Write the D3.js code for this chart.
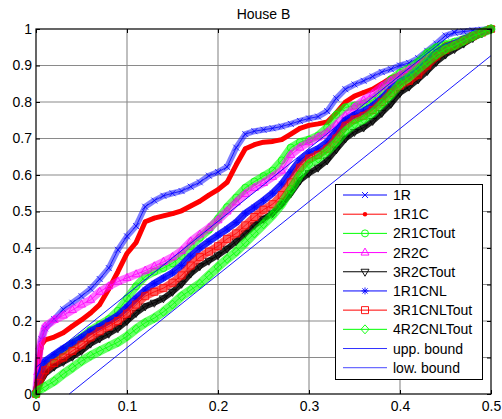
<!DOCTYPE html>
<html><head><meta charset="utf-8">
<script src="https://cdn.jsdelivr.net/npm/d3@7"></script>
<style>
html,body{margin:0;padding:0;background:#fff;}
svg{display:block;font-family:Arial,"Liberation Sans",sans-serif;}
</style></head><body>
<svg id="chart" width="502" height="419"></svg>
<script>
const chartTitle = "House B";
const xTickValues = [0, 0.1, 0.2, 0.3, 0.4, 0.5];
const xTickLabels = ["0", "0.1", "0.2", "0.3", "0.4", "0.5"];
const yTickValues = [0, 0.1, 0.2, 0.3, 0.4, 0.5, 0.6, 0.7, 0.8, 0.9, 1];
const yTickLabels = ["0", "0.1", "0.2", "0.3", "0.4", "0.5", "0.6", "0.7", "0.8", "0.9", "1"];
const seriesNames = ["1R", "1R1C", "2R1CTout", "2R2C", "3R2CTout", "1R1CNL", "3R1CNLTout", "4R2CNLTout", "upp. bound", "low. bound"];

const s1R = [[0,0],[0.003,0.10],[0.006,0.15],[0.01,0.18],[0.02,0.205],[0.03,0.232],[0.04,0.25],[0.05,0.268],[0.06,0.288],[0.07,0.315],[0.08,0.345],[0.09,0.395],[0.10,0.432],[0.11,0.46],[0.12,0.513],[0.13,0.53],[0.14,0.543],[0.15,0.55],[0.16,0.556],[0.17,0.568],[0.18,0.58],[0.19,0.598],[0.20,0.608],[0.21,0.622],[0.22,0.675],[0.23,0.712],[0.24,0.72],[0.25,0.724],[0.26,0.728],[0.27,0.733],[0.28,0.74],[0.29,0.748],[0.30,0.755],[0.31,0.76],[0.32,0.775],[0.33,0.81],[0.34,0.835],[0.35,0.848],[0.36,0.858],[0.37,0.87],[0.38,0.882],[0.39,0.89],[0.40,0.9],[0.41,0.907],[0.42,0.92],[0.43,0.94],[0.44,0.96],[0.45,0.982],[0.46,0.99],[0.47,0.993],[0.48,0.996],[0.49,0.998],[0.50,1.0]];

const s1R1C = [[0,0],[0.003,0.09],[0.006,0.135],[0.01,0.148],[0.02,0.156],[0.03,0.168],[0.04,0.186],[0.05,0.203],[0.06,0.222],[0.07,0.245],[0.08,0.288],[0.09,0.335],[0.10,0.385],[0.11,0.415],[0.12,0.472],[0.13,0.482],[0.14,0.488],[0.15,0.494],[0.16,0.502],[0.17,0.515],[0.18,0.528],[0.19,0.545],[0.20,0.56],[0.21,0.58],[0.22,0.628],[0.23,0.672],[0.24,0.683],[0.25,0.69],[0.26,0.692],[0.27,0.697],[0.28,0.712],[0.29,0.728],[0.30,0.736],[0.31,0.74],[0.32,0.745],[0.33,0.77],[0.34,0.8],[0.35,0.816],[0.36,0.826],[0.37,0.835],[0.38,0.85],[0.39,0.866],[0.40,0.875],[0.41,0.887],[0.42,0.905],[0.43,0.92],[0.44,0.938],[0.45,0.958],[0.46,0.963],[0.47,0.968],[0.48,0.983],[0.49,0.993],[0.50,1.0]];

const s2R1CTout = [[0,0],[0.005,0.05],[0.01,0.075],[0.02,0.1],[0.03,0.12],[0.04,0.138],[0.05,0.155],[0.06,0.175],[0.07,0.19],[0.08,0.205],[0.09,0.228],[0.10,0.262],[0.11,0.295],[0.12,0.322],[0.13,0.335],[0.14,0.345],[0.15,0.358],[0.16,0.378],[0.17,0.405],[0.18,0.428],[0.19,0.45],[0.20,0.48],[0.21,0.512],[0.22,0.538],[0.23,0.565],[0.24,0.582],[0.25,0.597],[0.26,0.612],[0.27,0.64],[0.28,0.675],[0.29,0.69],[0.30,0.697],[0.31,0.708],[0.32,0.73],[0.33,0.765],[0.34,0.785],[0.35,0.79],[0.36,0.795],[0.37,0.805],[0.38,0.83],[0.39,0.862],[0.40,0.88],[0.41,0.892],[0.42,0.91],[0.43,0.935],[0.44,0.95],[0.45,0.958],[0.46,0.965],[0.47,0.972],[0.48,0.982],[0.49,0.992],[0.50,1.0]];

const s2R2C = [[0,0],[0.002,0.06],[0.004,0.13],[0.01,0.185],[0.02,0.203],[0.03,0.215],[0.04,0.23],[0.05,0.245],[0.06,0.258],[0.07,0.28],[0.08,0.295],[0.09,0.308],[0.10,0.318],[0.11,0.328],[0.12,0.338],[0.13,0.35],[0.14,0.362],[0.15,0.375],[0.16,0.392],[0.17,0.418],[0.18,0.437],[0.19,0.455],[0.20,0.476],[0.21,0.5],[0.22,0.525],[0.23,0.548],[0.24,0.565],[0.25,0.578],[0.26,0.595],[0.27,0.612],[0.28,0.655],[0.29,0.675],[0.30,0.69],[0.31,0.703],[0.32,0.716],[0.33,0.738],[0.34,0.762],[0.35,0.785],[0.36,0.805],[0.37,0.822],[0.38,0.842],[0.39,0.858],[0.40,0.873],[0.41,0.888],[0.42,0.9],[0.43,0.914],[0.44,0.928],[0.45,0.943],[0.46,0.958],[0.47,0.97],[0.48,0.98],[0.49,0.99],[0.50,1.0]];

const s3R2CTout = [[0,0],[0.003,0.025],[0.01,0.055],[0.02,0.075],[0.03,0.088],[0.04,0.102],[0.05,0.118],[0.06,0.138],[0.07,0.152],[0.08,0.165],[0.09,0.18],[0.10,0.2],[0.11,0.222],[0.12,0.24],[0.13,0.25],[0.14,0.262],[0.15,0.28],[0.16,0.302],[0.17,0.33],[0.18,0.35],[0.19,0.365],[0.20,0.38],[0.21,0.398],[0.22,0.418],[0.23,0.44],[0.24,0.462],[0.25,0.48],[0.26,0.495],[0.27,0.52],[0.28,0.55],[0.29,0.585],[0.30,0.605],[0.31,0.62],[0.32,0.64],[0.33,0.67],[0.34,0.7],[0.35,0.718],[0.36,0.73],[0.37,0.748],[0.38,0.77],[0.39,0.795],[0.40,0.825],[0.41,0.842],[0.42,0.862],[0.43,0.885],[0.44,0.91],[0.45,0.93],[0.46,0.945],[0.47,0.96],[0.48,0.975],[0.49,0.988],[0.50,1.0]];

const s1R1CNL = [[0,0],[0.003,0.04],[0.01,0.09],[0.02,0.108],[0.03,0.125],[0.04,0.14],[0.05,0.155],[0.06,0.172],[0.07,0.185],[0.08,0.2],[0.09,0.215],[0.10,0.238],[0.11,0.262],[0.12,0.285],[0.13,0.303],[0.14,0.318],[0.15,0.332],[0.16,0.352],[0.17,0.378],[0.18,0.4],[0.19,0.418],[0.20,0.435],[0.21,0.452],[0.22,0.47],[0.23,0.495],[0.24,0.512],[0.25,0.53],[0.26,0.55],[0.27,0.575],[0.28,0.608],[0.29,0.64],[0.30,0.66],[0.31,0.672],[0.32,0.69],[0.33,0.72],[0.34,0.75],[0.35,0.765],[0.36,0.775],[0.37,0.79],[0.38,0.81],[0.39,0.835],[0.40,0.855],[0.41,0.868],[0.42,0.885],[0.43,0.91],[0.44,0.935],[0.45,0.95],[0.46,0.96],[0.47,0.972],[0.48,0.982],[0.49,0.992],[0.50,1.0]];

const s3R1CNLTout = [[0,0],[0.003,0.03],[0.01,0.065],[0.02,0.085],[0.03,0.1],[0.04,0.118],[0.05,0.135],[0.06,0.155],[0.07,0.172],[0.08,0.185],[0.09,0.2],[0.10,0.22],[0.11,0.245],[0.12,0.268],[0.13,0.28],[0.14,0.29],[0.15,0.305],[0.16,0.325],[0.17,0.352],[0.18,0.375],[0.19,0.39],[0.20,0.405],[0.21,0.425],[0.22,0.44],[0.23,0.462],[0.24,0.485],[0.25,0.505],[0.26,0.52],[0.27,0.545],[0.28,0.58],[0.29,0.62],[0.30,0.645],[0.31,0.655],[0.32,0.672],[0.33,0.7],[0.34,0.735],[0.35,0.752],[0.36,0.762],[0.37,0.778],[0.38,0.8],[0.39,0.825],[0.40,0.845],[0.41,0.858],[0.42,0.875],[0.43,0.9],[0.44,0.925],[0.45,0.943],[0.46,0.955],[0.47,0.968],[0.48,0.98],[0.49,0.99],[0.50,1.0]];

const s4R2CNLTout = [[0,0],[0.003,0.01],[0.01,0.02],[0.02,0.035],[0.03,0.055],[0.04,0.072],[0.05,0.09],[0.06,0.105],[0.07,0.118],[0.08,0.13],[0.09,0.142],[0.10,0.158],[0.11,0.178],[0.12,0.195],[0.13,0.208],[0.14,0.225],[0.15,0.245],[0.16,0.268],[0.17,0.285],[0.18,0.302],[0.19,0.325],[0.20,0.348],[0.21,0.37],[0.22,0.39],[0.23,0.415],[0.24,0.44],[0.25,0.465],[0.26,0.49],[0.27,0.52],[0.28,0.56],[0.29,0.6],[0.30,0.63],[0.31,0.645],[0.32,0.665],[0.33,0.69],[0.34,0.72],[0.35,0.74],[0.36,0.752],[0.37,0.77],[0.38,0.795],[0.39,0.82],[0.40,0.85],[0.41,0.868],[0.42,0.89],[0.43,0.91],[0.44,0.93],[0.45,0.945],[0.46,0.955],[0.47,0.968],[0.48,0.98],[0.49,0.99],[0.50,1.0]];

const uppBound = [[0, 0.073], [0.4635, 1.0]];
const lowBound = [[0.0365, 0], [0.5, 0.927]];

// ---------------- drawing ----------------
const svg = d3.select("#chart");
const L = 36, R = 491, T = 29, B = 394;
const x = d3.scaleLinear().domain([0, 0.5]).range([L, R]);
const y = d3.scaleLinear().domain([0, 1]).range([B, T]);

const FONT = 14;

// grid
const grid = svg.append("g");
grid.selectAll("line.gx").data(xTickValues.slice(1, -1)).enter().append("line")
  .attr("x1", d => x(d)).attr("x2", d => x(d)).attr("y1", T).attr("y2", B)
  .attr("stroke", "#8a8a8a").attr("stroke-width", 1.1);
grid.selectAll("line.gy").data(yTickValues.slice(1, -1)).enter().append("line")
  .attr("y1", d => y(d)).attr("y2", d => y(d)).attr("x1", L).attr("x2", R)
  .attr("stroke", "#8a8a8a").attr("stroke-width", 1.1);

// markers
function markerPath(type) {
  switch (type) {
    case "x": return "M-3,-3L3,3M-3,3L3,-3";
    case "o": return "M3.5,0A3.5,3.5 0 1,1 -3.5,0A3.5,3.5 0 1,1 3.5,0Z";
    case "^": return "M0,-4.5L4,2.5L-4,2.5Z";
    case "v": return "M0,4.5L4,-2.5L-4,-2.5Z";
    case "*": return "M-3.5,0L3.5,0M0,-3.5L0,3.5M-2.6,-2.6L2.6,2.6M-2.6,2.6L2.6,-2.6";
    case "s": return "M-3.5,-3.5h7v7h-7Z";
    case "d": return "M0,-4.5L4,0L0,4.5L-4,0Z";
    default: return "";
  }
}

const seriesDefs = [
  {name: seriesNames[0], data: s1R, color: "#0000ff", marker: "x", band: 6, bandOp: 0.5},
  {name: seriesNames[1], data: s1R1C, color: "#ff0000", marker: ".", band: 5, bandOp: 1},
  {name: seriesNames[2], data: s2R1CTout, color: "#00ff00", marker: "o", band: 8, bandOp: 0.6},
  {name: seriesNames[3], data: s2R2C, color: "#ff00ff", marker: "^", band: 8, bandOp: 0.55},
  {name: seriesNames[4], data: s3R2CTout, color: "#000000", marker: "v", band: 6, bandOp: 0.85},
  {name: seriesNames[5], data: s1R1CNL, color: "#0000ff", marker: "*", band: 7, bandOp: 0.85},
  {name: seriesNames[6], data: s3R1CNLTout, color: "#ff0000", marker: "s", band: 8, bandOp: 0.65},
  {name: seriesNames[7], data: s4R2CNLTout, color: "#00ff00", marker: "d", band: 9, bandOp: 0.6}
];

const line = d3.line().x(d => x(d[0])).y(d => y(d[1]));
const plot = svg.append("g");

seriesDefs.forEach(s => {
  const g = plot.append("g");
  g.append("path").attr("d", line(s.data)).attr("fill", "none")
    .attr("stroke", s.color).attr("stroke-width", s.band).attr("stroke-opacity", s.bandOp)
    .attr("stroke-linejoin", "round").attr("stroke-linecap", "round");
  g.append("path").attr("d", line(s.data)).attr("fill", "none")
    .attr("stroke", s.color).attr("stroke-width", 0.8);
  if (s.marker === ".") {
    g.selectAll("circle").data(s.data).enter().append("circle")
      .attr("cx", d => x(d[0])).attr("cy", d => y(d[1])).attr("r", 2.2).attr("fill", s.color);
  } else {
    g.selectAll("path.m").data(s.data).enter().append("path").attr("class", "m")
      .attr("transform", d => `translate(${x(d[0])},${y(d[1])})`)
      .attr("d", markerPath(s.marker)).attr("fill", "none")
      .attr("stroke", s.color).attr("stroke-width", 0.8);
  }
});

// bounds
plot.append("path").attr("d", line(uppBound)).attr("fill", "none").attr("stroke", "#0000ff").attr("stroke-width", 0.9);
plot.append("path").attr("d", line(lowBound)).attr("fill", "none").attr("stroke", "#0000ff").attr("stroke-width", 0.9);

// axes
const axB = d3.axisBottom(x).tickValues(xTickValues).tickFormat((d, i) => xTickLabels[i]).tickSizeInner(-4).tickSizeOuter(0).tickPadding(7.5);
const axL = d3.axisLeft(y).tickValues(yTickValues).tickFormat((d, i) => yTickLabels[i]).tickSizeInner(-4).tickSizeOuter(0).tickPadding(4);
const axT = d3.axisTop(x).tickValues(xTickValues).tickFormat("").tickSizeInner(-4).tickSizeOuter(0);
const axR = d3.axisRight(y).tickValues(yTickValues).tickFormat("").tickSizeInner(-4).tickSizeOuter(0);

function styleAxis(g) {
  g.select(".domain").remove();
  g.selectAll("line").attr("stroke", "#000").attr("stroke-width", 1);
  g.selectAll("text").attr("fill", "#000").style("font-size", FONT + "px").style("font-family", "Arial, 'Liberation Sans', sans-serif");
}
svg.append("g").attr("transform", `translate(0,${B})`).call(axB).call(styleAxis);
svg.append("g").attr("transform", `translate(${L},0)`).call(axL).call(styleAxis);
svg.append("g").attr("transform", `translate(0,${T})`).call(axT).call(styleAxis);
svg.append("g").attr("transform", `translate(${R},0)`).call(axR).call(styleAxis);

svg.append("rect").attr("x", L).attr("y", T).attr("width", R - L).attr("height", B - T)
  .attr("fill", "none").attr("stroke", "#000").attr("stroke-width", 1.2);

// title
svg.append("text").attr("x", (L + R) / 2).attr("y", 19).attr("text-anchor", "middle")
  .style("font-size", FONT + "px").text(chartTitle);

// legend
const legX = 335.5, legY = 184.5, legW = 147, legH = 195;
const leg = svg.append("g");
leg.append("rect").attr("x", legX).attr("y", legY).attr("width", legW).attr("height", legH)
  .attr("fill", "#fff").attr("stroke", "#000").attr("stroke-width", 1);
const legendItems = seriesDefs.map(s => ({name: s.name, color: s.color, marker: s.marker, lw: 1}))
  .concat([{name: seriesNames[8], color: "#3030ff", marker: null, lw: 1}, {name: seriesNames[9], color: "#4848ff", marker: null, lw: 1}]);
const rowY = i => 195 + i * 19.19;
legendItems.forEach((it, i) => {
  const yy = rowY(i);
  leg.append("line").attr("x1", 343).attr("x2", 387).attr("y1", yy).attr("y2", yy)
    .attr("stroke", it.color).attr("stroke-width", it.lw);
  if (it.marker === ".") {
    leg.append("circle").attr("cx", 365).attr("cy", yy).attr("r", 2.2).attr("fill", it.color);
  } else if (it.marker) {
    leg.append("path").attr("transform", `translate(365,${yy})`).attr("d", markerPath(it.marker))
      .attr("fill", "none").attr("stroke", it.color).attr("stroke-width", 0.9);
  }
  leg.append("text").attr("x", 393).attr("y", yy + 5).style("font-size", FONT + "px").attr("fill", "#000").text(it.name);
});
</script>
</body></html>
